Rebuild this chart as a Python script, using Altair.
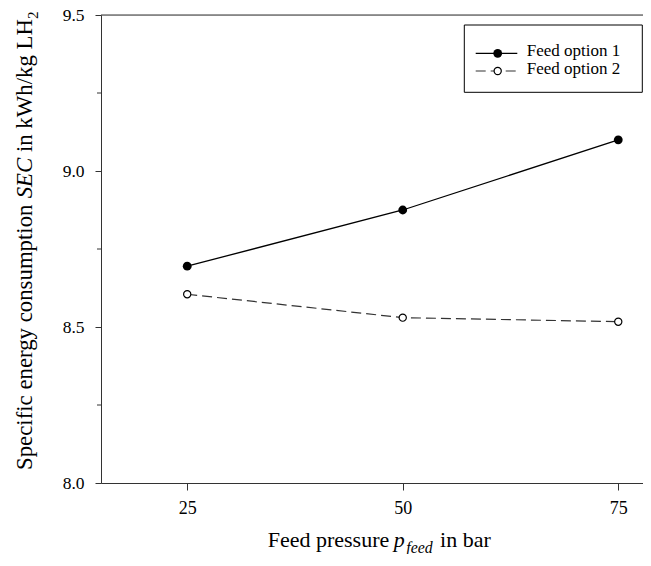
import altair as alt
import pandas as pd

# ---------------- data ----------------
pressure = [25, 50, 75]
option1 = [8.695, 8.875, 9.10]
option2 = [8.605, 8.530, 8.517]
series_names = ["Feed option 1", "Feed option 2"]
x_ticks = [25, 50, 75]
y_ticks = [8.0, 8.5, 9.0, 9.5]
y_minor = [8.25, 8.75, 9.25]

FONT = "Liberation Serif"
W, H = 542, 468
X_DOMAIN = [15, 77.87]
Y_DOMAIN = [8.0, 9.5]
AX = "#333333"

df = pd.DataFrame({
    "p": pressure * 2,
    "sec": option1 + option2,
    "series": [series_names[0]] * len(pressure) + [series_names[1]] * len(pressure),
})

xs = alt.Scale(domain=X_DOMAIN, nice=False, zero=False)
ys = alt.Scale(domain=Y_DOMAIN, nice=False, zero=False)

x_axis = alt.Axis(values=x_ticks, format="d", title=None, grid=False, tickSize=7,
                  labelPadding=9, labelFontSize=18, labelFont=FONT, labelColor="black",
                  domainColor=AX, tickColor=AX, labelFlush=False, domainWidth=1, tickWidth=1)
y_axis = alt.Axis(values=y_ticks, format=".1f", title=None, grid=False, tickSize=6,
                  labelPadding=11, labelFontSize=17.5, labelFont=FONT, labelColor="black",
                  domainColor=AX, tickColor=AX, labelFlush=False, domainWidth=1, tickWidth=1)

X = alt.X("p:Q", scale=xs, axis=x_axis)
Y = alt.Y("sec:Q", scale=ys, axis=y_axis)

base = alt.Chart(df)
s1 = base.transform_filter(alt.datum.series == series_names[0])
s2 = base.transform_filter(alt.datum.series == series_names[1])

line1 = s1.mark_line(color="black", strokeWidth=1.3).encode(x=X, y=Y)
line2 = s2.mark_line(color="#333333", strokeWidth=1.2, strokeDash=[10, 5]).encode(x=X, y=Y)
pts1 = s1.mark_point(filled=True, color="black", size=78, opacity=1).encode(x=X, y=Y)
pts2 = s2.mark_point(filled=True, fill="white", stroke="black", strokeWidth=1.2,
                     size=52, opacity=1).encode(x=X, y=Y)

minor = alt.Chart(pd.DataFrame({"sec": y_minor})).mark_rule(color=AX, strokeWidth=1).encode(
    y=Y, x=alt.value(-4), x2=alt.value(0)
)
top_border = alt.Chart(pd.DataFrame({"sec": [Y_DOMAIN[1]]})).mark_rule(color=AX, strokeWidth=1).encode(
    y=Y, x=alt.value(0), x2=alt.value(W)
)

# ---------------- text helpers ----------------
REG = {' ': 250, 'S': 556, 'p': 500, 'e': 444, 'c': 444, 'i': 278, 'f': 333, 'n': 500,
       'r': 333, 'g': 500, 'y': 500, 'o': 500, 's': 389, 'u': 500, 'm': 778, 't': 278,
       'k': 500, 'W': 944, 'h': 500, '/': 278, 'L': 611, 'H': 722, 'F': 556, 'd': 500,
       'b': 500, 'a': 444, '2': 500}
ITA = {'S': 500, 'E': 611, 'C': 667, 'p': 500, 'f': 278, 'e': 444, 'd': 500, ' ': 250}


def tw(s, table, fs):
    return sum(table[c] for c in s) / 1000.0 * fs


def txt(t, x, y, size, style="normal", angle=0, align="left", baseline="alphabetic"):
    return alt.Chart(pd.DataFrame({"t": [t]})).mark_text(
        font=FONT, fontSize=size, fontStyle=style, angle=angle, align=align,
        baseline=baseline, color="black"
    ).encode(x=alt.value(x), y=alt.value(y), text="t:N")


# y title (rotated, reads bottom to top)
fy = 22.8
fy_sub = 15.0
yx = -69
ystart = 455
seg1 = "Specific energy consumption "
seg2 = "SEC"
seg3 = " in kWh/kg LH"
y1 = ystart
y2 = y1 - tw(seg1, REG, fy)
y3 = y2 - tw(seg2, ITA, fy)
y4 = y3 - tw(seg3, REG, fy)
ytitle = [
    txt(seg1.strip(), yx, y1, fy, angle=270),
    txt(seg2, yx, y2, fy, style="italic", angle=270),
    txt(seg3.strip(), yx, y3 - tw(" ", REG, fy), fy, angle=270),
    txt("2", yx + 5.5, y4, fy_sub, angle=270),
]

# x title
fx = 22
fx_sub = 15.8
xb = 532
x1 = 166.7
xseg1 = "Feed pressure "
x2 = x1 + tw(xseg1, REG, fx)
x3 = x2 + tw("p", ITA, fx)
x4 = x3 + tw("feed", ITA, fx_sub)
xtitle = [
    txt(xseg1.strip(), x1, xb, fx),
    txt("p", x2 - 1, xb, fx, style="italic"),
    txt("feed", x3 + 0.5, xb + 5.5, fx_sub, style="italic"),
    txt("in bar", x4 + tw(" ", REG, fx) + 2.5, xb, fx),
]

# ---------------- legend ----------------
one = pd.DataFrame({"a": [0]})
leg_box = alt.Chart(one).mark_rect(fill="white", stroke="black", strokeWidth=1).encode(
    x=alt.value(363.3), x2=alt.value(541.3), y=alt.value(10), y2=alt.value(77.3)
)
leg_l1 = alt.Chart(one).mark_rule(color="black", strokeWidth=1.3).encode(
    x=alt.value(374.7), x2=alt.value(416.3), y=alt.value(38.3)
)
leg_p1 = alt.Chart(one).mark_point(filled=True, color="black", size=78, opacity=1).encode(
    x=alt.value(396.7), y=alt.value(38.3)
)
leg_l2 = alt.Chart(one).mark_rule(color="#333333", strokeWidth=1.2, strokeDash=[10, 5]).encode(
    x=alt.value(374.7), x2=alt.value(416.3), y=alt.value(56)
)
leg_p2 = alt.Chart(one).mark_point(filled=True, fill="white", stroke="black", strokeWidth=1.2,
                                   size=52, opacity=1).encode(
    x=alt.value(396.7), y=alt.value(56)
)
leg_t1 = txt(series_names[0], 425.7, 41.3, 17)
leg_t2 = txt(series_names[1], 425.7, 59.3, 17)

chart = alt.layer(
    line1, line2, pts1, pts2, minor, top_border,
    leg_box, leg_l1, leg_l2, leg_p1, leg_p2, leg_t1, leg_t2,
    *ytitle, *xtitle,
).properties(
    width=W, height=H,
    autosize=alt.AutoSizeParams(type="none"),
    padding={"left": 93, "top": 7, "right": 0, "bottom": 71},
).configure_view(stroke=None).configure(background="white")

chart.save("out.html", embed_options={"renderer": "svg", "actions": False})
